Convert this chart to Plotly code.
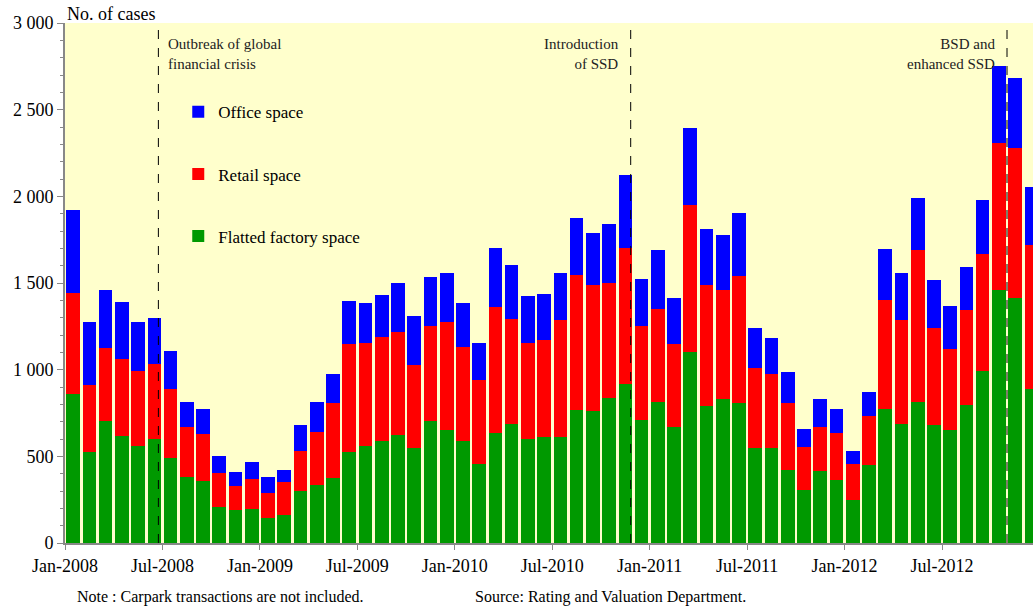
import plotly.graph_objects as go

# monthly cases, Jan-2008 .. Dec-2012 (read as cumulative stack tops)
months = [f"{m}-{y}" for y in range(2008, 2013)
          for m in ["Jan", "Feb", "Mar", "Apr", "May", "Jun",
                    "Jul", "Aug", "Sep", "Oct", "Nov", "Dec"]]

green_top = [862, 526, 705, 620, 557, 600, 493, 383, 360, 210, 190, 199,
             143, 163, 298, 334, 376, 526, 562, 587, 625, 546, 705, 654,
             587, 457, 636, 687, 600, 609, 613, 768, 759, 835, 916, 710,
             811, 667, 1102, 793, 828, 806, 546, 546, 421, 305, 414, 363,
             246, 452, 772, 687, 811, 681, 654, 799, 990, 1460, 1411, 891]
red_top = [1440, 909, 1126, 1063, 994, 1030, 891, 669, 627, 403, 329, 367,
           291, 352, 531, 638, 806, 1146, 1151, 1191, 1218, 1025, 1254, 1274,
           1131, 938, 1361, 1292, 1155, 1169, 1287, 1547, 1487, 1498, 1702, 1254,
           1348, 1146, 1952, 1487, 1460, 1540, 1008, 976, 806, 551, 667, 636,
           457, 730, 1404, 1285, 1688, 1240, 1120, 1343, 1666, 2306, 2277, 1720]
blue_top = [1921, 1276, 1460, 1393, 1276, 1299, 1108, 815, 772, 502, 407, 470,
            383, 421, 681, 815, 974, 1397, 1386, 1428, 1502, 1310, 1534, 1558,
            1386, 1155, 1702, 1601, 1424, 1435, 1558, 1874, 1787, 1838, 2123, 1523,
            1688, 1415, 2394, 1811, 1776, 1905, 1238, 1182, 985, 656, 831, 772,
            531, 871, 1699, 1558, 1990, 1516, 1366, 1594, 1979, 2752, 2682, 2053]

flatted = green_top
retail = [r - g for r, g in zip(red_top, green_top)]
office = [b - r for b, r in zip(blue_top, red_top)]

x = list(range(len(months)))
tick_pos = [i - 0.5 for i in range(0, len(months), 6)]
tick_text = [months[i] for i in range(0, len(months), 6)]

events = [(5.25, "Outbreak of global<br>financial crisis", "left"),
          (34.33, "Introduction<br>of SSD", "right"),
          (57.5, "BSD and<br>enhanced SSD", "right")]

FONT = "Liberation Serif, Times New Roman, serif"

fig = go.Figure()
for name, vals, col, rank in [("Flatted factory space", flatted, "#009900", 3),
                              ("Retail space", retail, "#FF0000", 2),
                              ("Office space", office, "#0000FF", 1)]:
    fig.add_trace(go.Bar(x=x, y=vals, name=name, marker_color=col,
                         marker_line_width=0, legendgroup=name, legendrank=rank,
                         customdata=months,
                         hovertemplate="%{customdata}: %{y}<extra>" + name + "</extra>"))

for xv, txt, side in events:
    fig.add_shape(type="line", x0=xv, x1=xv, y0=0, y1=2990,
                  line=dict(color="black", width=1, dash="dash"))
    fig.add_annotation(x=xv + (0.45 if side == "left" else -0.6), y=2935,
                       text=txt, showarrow=False, align=side,
                       xanchor=side, yanchor="top",
                       font=dict(family=FONT, size=15, color="#222"))

fig.add_annotation(x=0, y=1, xref="paper", yref="paper", xshift=0,
                   text="No. of cases", showarrow=False, xanchor="left", yanchor="bottom",
                   yshift=-3, font=dict(family=FONT, size=18, color="black"))
fig.add_annotation(x=0.010, y=-0.083, xref="paper", yref="paper",
                   text="Note : Carpark transactions are not included.",
                   showarrow=False, xanchor="left", yanchor="top",
                   font=dict(family=FONT, size=16, color="black"))
fig.add_annotation(x=0.422, y=-0.083, xref="paper", yref="paper",
                   text="Source: Rating and Valuation Department.",
                   showarrow=False, xanchor="left", yanchor="top",
                   font=dict(family=FONT, size=16, color="black"))

fig.update_layout(
    width=1033, height=608,
    margin=dict(l=65, r=0, t=23, b=65, autoexpand=False),
    barmode="stack", bargap=0.16,
    plot_bgcolor="#FFFFCC", paper_bgcolor="white",
    font=dict(family=FONT, size=18, color="black"),
    showlegend=True,
    legend=dict(x=0.117, y=0.863, xanchor="left", yanchor="top",
                bgcolor="rgba(0,0,0,0)", traceorder="grouped",
                tracegroupgap=37, font=dict(family=FONT, size=17),
                itemwidth=30),
    xaxis=dict(range=[-0.5, 59.1], tickmode="array", tickvals=tick_pos,
               ticktext=tick_text, ticks="outside", ticklen=5, tickcolor="#888",
               showline=True, linecolor="#888", linewidth=2, showgrid=False,
               zeroline=False, automargin=False, tickfont=dict(size=18)),
    yaxis=dict(range=[0, 3000], tickmode="array",
               tickvals=[0, 500, 1000, 1500, 2000, 2500, 3000],
               ticktext=["0", "500", "1 000", "1 500", "2 000", "2 500", "3 000"],
               ticks="outside", ticklen=6, tickcolor="#888",
               minor=dict(dtick=100, ticks="outside", ticklen=3, tickcolor="#888"),
               showline=True, linecolor="#888", linewidth=2, showgrid=False,
               zeroline=False, automargin=False, tickfont=dict(size=18)),
)

# drop the default page margin so the figure sits at the window's corner
fig.write_html("out.html", config={"displayModeBar": False},
               post_script="document.body.style.margin='0px';")
